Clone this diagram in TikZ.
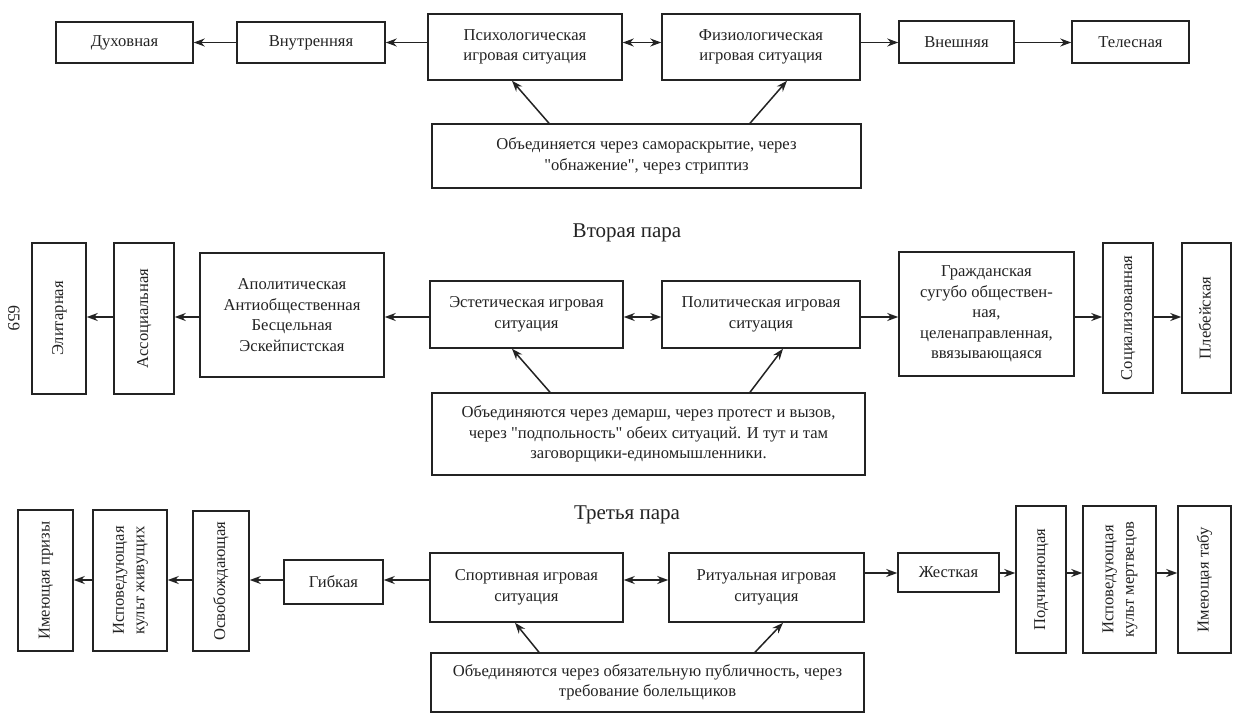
\documentclass[tikz,border=0pt]{standalone}
\usepackage{fontspec}
\setmainfont{Liberation Serif}[Ligatures=TeXOff]
\usepackage{graphicx}
\usetikzlibrary{arrows.meta}
\definecolor{ink}{RGB}{35,35,35}
\tikzset{
  box/.style={draw=ink, line width=1.5pt, inner sep=0pt, align=center, text=ink,
    font=\fontsize{16.6}{20.5}\selectfont},
  arr/.style={draw=ink, line width=1.5pt, -{Stealth[length=11pt,width=8pt]}},
  darr/.style={draw=ink, line width=1.5pt, {Stealth[length=11pt,width=8pt]}-{Stealth[length=11pt,width=8pt]}},
  lab/.style={text=ink, inner sep=0pt, font=\fontsize{21}{22}\selectfont},
}
\newcommand{\rot}[1]{\rotatebox{90}{\begin{tabular}{@{}c@{}}#1\end{tabular}}}
\begin{document}
\begin{tikzpicture}[x=1pt,y=-1pt]
\fill[white] (0,0) rectangle (1242,723);
\useasboundingbox (0,0) rectangle (1242,723);

% ---------- row 1 ----------
\coordinate (r1) at (0,42.5);
\node[box, minimum width=137pt, minimum height=41pt] (duh) at (124.5,42.5) {Духовная};
\node[box, minimum width=148pt, minimum height=41pt] (vnu) at (311,42.5) {Внутренняя};
\node[box, minimum width=194pt, minimum height=66pt] (psy) at (525,47) {Психологическая\\игровая ситуация};
\node[box, minimum width=198pt, minimum height=66pt] (fiz) at (761,47) {Физиологическая\\игровая ситуация};
\node[box, minimum width=115pt, minimum height=42pt] (vne) at (956.5,42) {Внешняя};
\node[box, minimum width=117pt, minimum height=42pt] (tel) at (1130.5,42) {Телесная};
\node[box, minimum width=429pt, minimum height=64pt] (ob1) at (646.5,156) {Объединяется через самораскрытие, через\\"обнажение", через стриптиз};

\draw[arr] (psy.west |- r1) -- (vnu.east |- r1);
\draw[arr] (vnu.west |- r1) -- (duh.east |- r1);
\draw[darr] (psy.east |- r1) -- (fiz.west |- r1);
\draw[arr] (fiz.east |- r1) -- (vne.west |- r1);
\draw[arr] (vne.east |- r1) -- (tel.west |- r1);
\draw[arr] ([xshift=-97.5pt]ob1.north) -- ([xshift=-13pt]psy.south);
\draw[arr] ([xshift=103.5pt]ob1.north) -- ([xshift=26pt]fiz.south);

% ---------- row 2 ----------
\node[lab] (t2) at (627,233) {Вторая пара};
\node[lab, rotate=-90, font=\fontsize{17}{18}\selectfont] (pg) at (14,318) {659};
\coordinate (r2) at (0,317);
\node[box, minimum width=54pt, minimum height=151pt] (eli) at (59,318.5) {\rot{Элитарная}};
\node[box, minimum width=60pt, minimum height=151pt] (aso) at (144,318.5) {\rot{Ассоциальная}};
\node[box, minimum width=184pt, minimum height=124pt] (apo) at (292,315) {Аполитическая\\Антиобщественная\\Бесцельная\\Эскейпистская};
\node[box, minimum width=193pt, minimum height=67pt] (est) at (526.5,314.5) {Эстетическая игровая\\ситуация};
\node[box, minimum width=198pt, minimum height=67pt] (pol) at (761,314.5) {Политическая игровая\\ситуация};
\node[box, minimum width=175pt, minimum height=124pt] (gra) at (986.5,314) {Гражданская\\сугубо обществен-\\ная,\\целенаправленная,\\ввязывающаяся};
\node[box, minimum width=50pt, minimum height=150pt] (soc) at (1128,318) {\rot{Социализованная}};
\node[box, minimum width=49pt, minimum height=150pt] (ple) at (1206.5,318) {\rot{Плебейская}};
\node[box, minimum width=433pt, minimum height=82pt] (ob2) at (648.5,434) {Объединяются через демарш, через протест и вызов,\\через "подпольность" обеих ситуаций. И тут и там\\заговорщики-единомышленники.};

\draw[arr] (est.west |- r2) -- (apo.east |- r2);
\draw[arr] (apo.west |- r2) -- (aso.east |- r2);
\draw[arr] (aso.west |- r2) -- (eli.east |- r2);
\draw[darr] (est.east |- r2) -- (pol.west |- r2);
\draw[arr] (pol.east |- r2) -- (gra.west |- r2);
\draw[arr] (gra.east |- r2) -- (soc.west |- r2);
\draw[arr] (soc.east |- r2) -- (ple.west |- r2);
\draw[arr] ([xshift=-98.5pt]ob2.north) -- ([xshift=-14.5pt]est.south);
\draw[arr] ([xshift=101.5pt]ob2.north) -- ([xshift=22pt]pol.south);

% ---------- row 3 ----------
\node[lab] (t3) at (627,515) {Третья пара};
\coordinate (r3l) at (0,580);
\coordinate (r3r) at (0,573);
\node[box, minimum width=55pt, minimum height=141pt] (imp) at (45.5,580.5) {\rot{Имеющая призы}};
\node[box, minimum width=74pt, minimum height=141pt] (isz) at (130,580.5) {\rot{Исповедующая\\культ живущих}};
\node[box, minimum width=56pt, minimum height=140pt] (osv) at (221,581) {\rot{Освобождающая}};
\node[box, minimum width=99pt, minimum height=44pt] (gib) at (333.5,582) {Гибкая};
\node[box, minimum width=193pt, minimum height=69pt] (spo) at (526.5,587.5) {Спортивная игровая\\ситуация};
\node[box, minimum width=195pt, minimum height=69pt] (rit) at (766.5,587.5) {Ритуальная игровая\\ситуация};
\node[box, minimum width=101pt, minimum height=39pt] (zhe) at (948.5,572.5) {Жесткая};
\node[box, minimum width=50pt, minimum height=147pt] (pod) at (1041,579.5) {\rot{Подчиняющая}};
\node[box, minimum width=73pt, minimum height=147pt] (ism) at (1119.5,579.5) {\rot{Исповедующая\\культ мертвецов}};
\node[box, minimum width=53pt, minimum height=147pt] (imt) at (1204.5,579.5) {\rot{Имеющая табу}};
\node[box, minimum width=433pt, minimum height=59pt] (ob3) at (647.5,682.5) {Объединяются через обязательную публичность, через\\требование болельщиков};

\draw[arr] (spo.west |- r3l) -- (gib.east |- r3l);
\draw[arr] (gib.west |- r3l) -- (osv.east |- r3l);
\draw[arr] (osv.west |- r3l) -- (isz.east |- r3l);
\draw[arr] (isz.west |- r3l) -- (imp.east |- r3l);
\draw[darr] (spo.east |- r3l) -- (rit.west |- r3l);
\draw[arr] (rit.east |- r3r) -- (zhe.west |- r3r);
\draw[arr] (zhe.east |- r3r) -- (pod.west |- r3r);
\draw[arr] (pod.east |- r3r) -- (ism.west |- r3r);
\draw[arr] (ism.east |- r3r) -- (imt.west |- r3r);
\draw[arr] ([xshift=-108.5pt]ob3.north) -- ([xshift=-11.5pt]spo.south);
\draw[arr] ([xshift=107.5pt]ob3.north) -- ([xshift=16.5pt]rit.south);
\end{tikzpicture}
\end{document}
